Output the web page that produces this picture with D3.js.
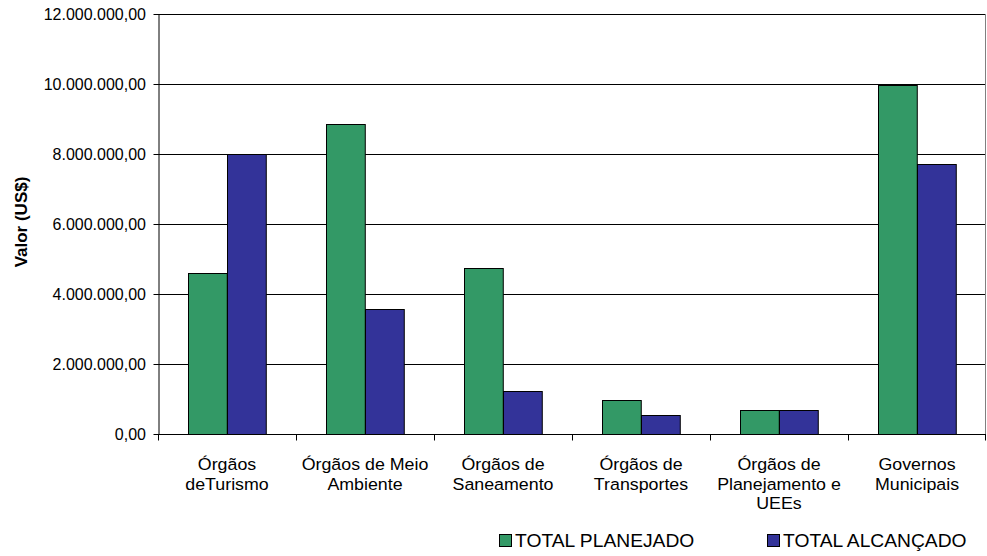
<!DOCTYPE html>
<html>
<head>
<meta charset="utf-8">
<script src="https://cdn.jsdelivr.net/npm/d3@7"></script>
<style>
  html, body { margin: 0; padding: 0; background: #fff; }
  svg { display: block; font-family: Arial, "Liberation Sans", sans-serif; }
</style>
</head>
<body>
<svg id="chart" width="987" height="556"></svg>
<script>
const categories = [
  "Órgãos deTurismo",
  "Órgãos de Meio Ambiente",
  "Órgãos de Saneamento",
  "Órgãos de Transportes",
  "Órgãos de Planejamento e UEEs",
  "Governos Municipais"
];
const categoryLines = [
  ["Órgãos", "deTurismo"],
  ["Órgãos de Meio", "Ambiente"],
  ["Órgãos de", "Saneamento"],
  ["Órgãos de", "Transportes"],
  ["Órgãos de", "Planejamento e", "UEEs"],
  ["Governos", "Municipais"]
];
const seriesNames = ["TOTAL PLANEJADO", "TOTAL ALCANÇADO"];
const planejado = [4610000, 8870000, 4730000, 970000, 700000, 9980000];
const alcancado = [8010000, 3570000, 1230000, 530000, 680000, 7710000];
const yTicks = [0, 2000000, 4000000, 6000000, 8000000, 10000000, 12000000];
const yTitle = "Valor (US$)";
const colors = ["#339966", "#333399"];

const svg = d3.select("#chart");
const margin = { left: 158, right: 1, top: 14, bottom: 122 };
const W = 987, H = 556;
const plotW = W - margin.left - margin.right;
const plotH = H - margin.top - margin.bottom;

const locale = d3.formatLocale({ decimal: ",", thousands: ".", grouping: [3], currency: ["", ""] });
const fmt = locale.format(",.2f");

const x0 = d3.scaleBand().domain(categories).range([0, plotW]).paddingInner(0).paddingOuter(0);
const x1 = d3.scaleBand().domain(seriesNames).range([0, x0.bandwidth()]).paddingInner(0).paddingOuter(0.78);
const y = d3.scaleLinear().domain([0, 12000000]).range([plotH, 0]);

const g = svg.append("g").attr("transform", `translate(${margin.left},${margin.top})`);

// gridlines
g.append("g").selectAll("line").data(yTicks.filter(d => d > 0)).join("line")
  .attr("x1", 0).attr("x2", plotW)
  .attr("y1", d => Math.round(y(d)) + 0.5).attr("y2", d => Math.round(y(d)) + 0.5)
  .attr("stroke", "#000").attr("stroke-width", 1);

// right border
g.append("line").attr("x1", plotW - 0.5).attr("x2", plotW - 0.5).attr("y1", 0).attr("y2", plotH)
  .attr("stroke", "#808080");

// bars
const data = categories.map((c, i) => ({ cat: c, vals: [planejado[i], alcancado[i]] }));
const groups = g.append("g").selectAll("g").data(data).join("g")
  .attr("transform", d => `translate(${x0(d.cat)},0)`);
groups.selectAll("rect").data(d => d.vals.map((v, j) => ({ key: seriesNames[j], v, j }))).join("rect")
  .attr("x", d => Math.round(x1(d.key)) + 0.5)
  .attr("width", x1.bandwidth())
  .attr("y", d => Math.round(y(d.v)) + 0.5)
  .attr("height", d => plotH - Math.round(y(d.v)))
  .attr("fill", d => colors[d.j])
  .attr("stroke", "#000").attr("stroke-width", 1);

// y axis
const yAxis = g.append("g").attr("transform", "translate(0.5,0)")
  .call(d3.axisLeft(y).tickValues(yTicks).tickSize(5).tickSizeOuter(0).tickFormat(""));
yAxis.select(".domain").attr("stroke", "#000");
yAxis.selectAll(".tick line").attr("stroke", "#000");
g.append("g").selectAll("text").data(yTicks).join("text")
  .attr("transform", d => `translate(-12,${y(d) + 6})`)
  .attr("text-anchor", "end")
  .attr("font-size", 16)
  .attr("fill", "#000")
  .text(d => fmt(d));

// x axis
const xAxis = g.append("g").attr("transform", `translate(0,${plotH + 0.5})`);
xAxis.append("line").attr("x1", 0).attr("x2", plotW).attr("stroke", "#000");
const bounds = categories.map(c => x0(c)).concat([plotW]);
xAxis.selectAll("line.tk").data(bounds).join("line").attr("class", "tk")
  .attr("x1", d => Math.min(Math.round(d), plotW - 1) + 0.5).attr("x2", d => Math.min(Math.round(d), plotW - 1) + 0.5)
  .attr("y1", 0).attr("y2", 6).attr("stroke", "#000");

const lbl = g.append("g");
categoryLines.forEach((lines, i) => {
  const cx = x0(categories[i]) + x0.bandwidth() / 2;
  lines.forEach((t, k) => {
    lbl.append("text")
      .attr("transform", `translate(${cx},${plotH + 36 + k * 19.5}) scale(1.08,1)`)
      .attr("text-anchor", "middle")
      .attr("font-size", 16.5)
      .attr("fill", "#000")
      .text(t);
  });
});

// y title
svg.append("text")
  .attr("transform", "translate(27,222) rotate(-90)")
  .attr("text-anchor", "middle")
  .attr("font-size", 17)
  .attr("font-weight", "bold")
  .attr("fill", "#000")
  .text(yTitle);

// legend
const legendX = [499, 767];
const leg = svg.append("g").selectAll("g").data(seriesNames).join("g")
  .attr("transform", (d, i) => `translate(${legendX[i]},534)`);
leg.append("rect").attr("x", 0.5).attr("y", 0.5).attr("width", 12).attr("height", 12)
  .attr("fill", (d, i) => colors[i]).attr("stroke", "#000");
leg.append("text")
  .attr("transform", "translate(16,13) scale(1.07,1)")
  .attr("font-size", 18)
  .attr("fill", "#000")
  .text(d => d);
</script>
</body>
</html>
